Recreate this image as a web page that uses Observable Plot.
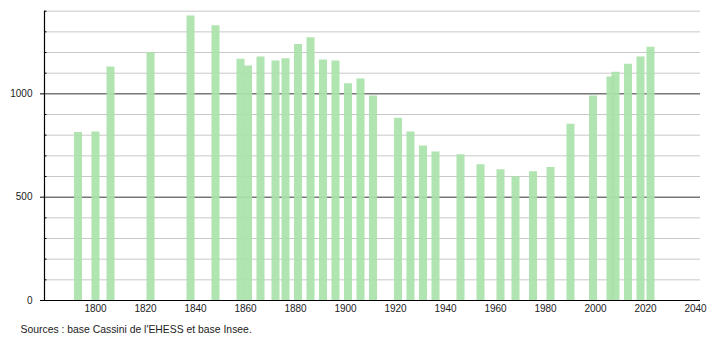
<!DOCTYPE html>
<html>
<head>
<meta charset="utf-8">
<script src="https://cdn.jsdelivr.net/npm/d3@7"></script>
<script src="https://cdn.jsdelivr.net/npm/@observablehq/plot@0.6"></script>
<style>
  html, body { margin: 0; padding: 0; background: #fff; }
  svg { display: block; }
</style>
</head>
<body>
<div id="chart"></div>
<script>
const years = [1793, 1800, 1806, 1822, 1838, 1848, 1858, 1861, 1866, 1872, 1876, 1881, 1886, 1891, 1896, 1901, 1906, 1911, 1921, 1926, 1931, 1936, 1946, 1954, 1962, 1968, 1975, 1982, 1990, 1999, 2006, 2008, 2013, 2018, 2022];
const population = [813, 816, 1130, 1199, 1377, 1330, 1167, 1135, 1178, 1159, 1170, 1239, 1271, 1164, 1159, 1049, 1072, 990, 882, 816, 748, 719, 705, 657, 633, 599, 623, 644, 853, 990, 1082, 1104, 1143, 1178, 1226];
const xTicks = [1800, 1820, 1840, 1860, 1880, 1900, 1920, 1940, 1960, 1980, 2000, 2020, 2040];
const yMajor = [0, 500, 1000];
const yMinor = [100, 200, 300, 400, 600, 700, 800, 900, 1100, 1200, 1300, 1400];
const caption = "Sources : base Cassini de l'EHESS et base Insee.";

const data = years.map((y, i) => ({year: y, pop: population[i]}));
const font = "Liberation Sans, Arial, Helvetica, sans-serif";
const W = 710, ML = 44, MR = 10;
const xDomain = [1779.6, 2042];

const chart = Plot.plot({
  width: W,
  height: 340,
  marginLeft: ML,
  marginRight: MR,
  marginTop: 10.7,
  marginBottom: 40,
  style: {fontFamily: font, fontSize: "10px", color: "#222", background: "#fff"},
  x: {type: "linear", domain: xDomain, axis: null},
  y: {type: "linear", domain: [0, 1400], axis: null},
  marks: [
    Plot.ruleY(yMinor, {stroke: "#c8c8c8", strokeWidth: 1}),
    Plot.ruleY(yMajor.filter(d => d > 0), {stroke: "#333", strokeWidth: 1}),
    Plot.ruleX(data, {x: "year", y1: 0, y2: "pop", stroke: "#a9e2a9", strokeWidth: 8, strokeOpacity: 0.92}),
    Plot.ruleY([0], {stroke: "#000", strokeWidth: 1.2}),
    Plot.ruleX([xDomain[0]], {stroke: "#000", strokeWidth: 1.2}),
    Plot.tickY(yMinor, {stroke: "#000", strokeWidth: 1, insetRight: W - ML - MR - 2.5}),
    Plot.axisY(yMajor, {ticks: yMajor, tickSize: 4, tickPadding: 8, fontSize: 10, fill: "#222", stroke: "#000", tickFormat: d => String(d), label: null}),
    Plot.axisX(xTicks, {ticks: xTicks, tickSize: 0, tickPadding: 4, fontSize: 10, fill: "#222", tickFormat: d => String(d), label: null}),
    Plot.text([caption], {frameAnchor: "bottom-left", dx: -24, dy: 32, textAnchor: "start", fontSize: 10.4, fill: "#222"})
  ]
});

document.getElementById("chart").append(chart);
</script>
</body>
</html>
